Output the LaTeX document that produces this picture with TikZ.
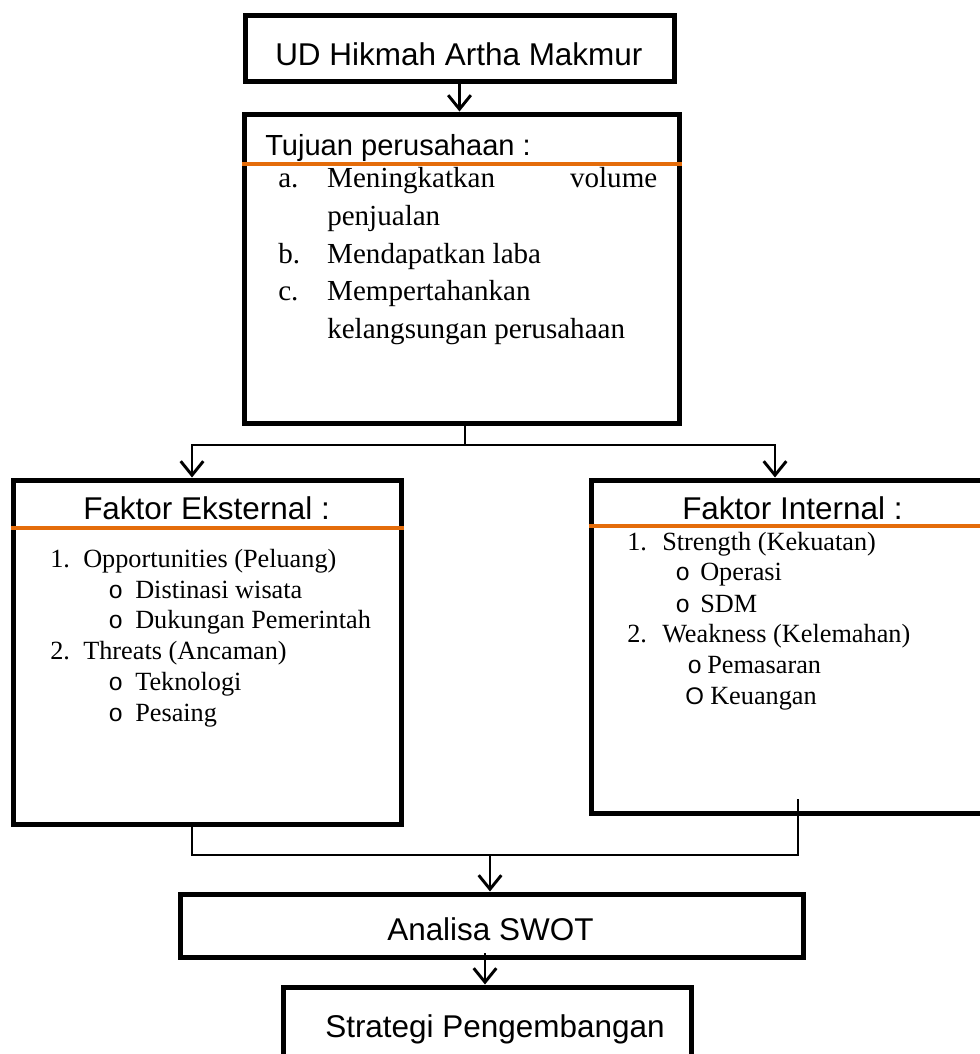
\documentclass[tikz,border=0pt]{standalone}
\usepackage{fontspec}
\setmainfont{Liberation Serif}
\newfontfamily\arialf{Liberation Sans}
\newfontfamily\monof{Liberation Mono}
\usetikzlibrary{arrows.meta,fit}
\definecolor{orangeline}{RGB}{228,108,10}
\newcommand{\ttlfont}{\arialf\fontsize{23.6}{28}\selectfont}
\newcommand{\subfont}{\arialf\fontsize{21.8}{26}\selectfont}
\newcommand{\lsafont}{\fontsize{21.8}{26}\selectfont}
\newcommand{\lsbfont}{\fontsize{19.7}{24}\selectfont}
\newcommand{\bulo}{{\monof\fontsize{18.5}{24}\selectfont o}}
\newcommand{\bulO}{{\arialf\fontsize{18}{22}\selectfont O}}
\begin{document}
\begin{tikzpicture}[x=0.75pt,y=-0.75pt,
  box/.style={draw,line width=3.75pt,inner sep=0pt},
  txt/.style={inner sep=0pt,anchor=base west},
  conn/.style={line width=2.2pt},
  arr/.style={line width=2.2pt,-{Straight Barb[length=10.5pt,width=17pt,line width=2.2pt]}},
  oline/.style={draw=orangeline,line width=2.8pt}]
\useasboundingbox (0,0) rectangle (980,1054);
\clip (0,0) rectangle (980,1054);

% boxes
\node[box,fit={(245,15)(674,81)}] (top) {};
\node[box,fit={(244,114)(679,423)}] (tuj) {};
\node[box,fit={(13,480)(401,824)}] (eks) {};
\node[box,fit={(591,480)(1010,813)}] (int) {};
\node[box,fit={(180,894)(803,957)}] (ana) {};
\node[box,fit={(283,987)(691,1100)}] (str) {};

% orange separators
\draw[oline] (tuj.west |- 0,164) -- (tuj.east |- 0,164);
\draw[oline] (eks.west |- 0,528) -- (eks.east |- 0,528);
\draw[oline] (int.west |- 0,526) -- (int.east |- 0,526);

% titles
\node[txt,font=\ttlfont] (ttop) at (275,65) {UD Hikmah Artha Makmur};
\node[txt,font=\subfont] (ttuj) at (265,155) {Tujuan perusahaan :};
\node[txt,font=\ttlfont] (teks) at (83,519) {Faktor Eksternal :};
\node[txt,font=\ttlfont] (tint) at (682,519) {Faktor Internal :};
\node[txt,font=\ttlfont] (tana) at (387,940) {Analisa SWOT};
\node[txt,font=\ttlfont] (tstr) at (325,1037) {Strategi Pengembangan};

% Tujuan list
\node[txt,font=\lsafont] (la) at (278,187) {\makebox[36.75pt][l]{a.}\hbox to 247.5pt{Meningkatkan\hfill volume}};
\node[txt,font=\lsafont] (la2) at (327,225) {penjualan};
\node[txt,font=\lsafont] (lb) at (278,263) {\makebox[36.75pt][l]{b.}Mendapatkan laba};
\node[txt,font=\lsafont] (lc) at (278,300) {\makebox[36.75pt][l]{c.}Mempertahankan};
\node[txt,font=\lsafont] (lc2) at (327,338) {kelangsungan perusahaan};

% Eksternal list
\node[txt,font=\lsbfont] (e1) at (50,567) {\makebox[24.75pt][l]{1.}Opportunities (Peluang)};
\node[txt,font=\lsbfont] (e11) at (108,598) {\makebox[20.25pt][l]{\bulo}Distinasi wisata};
\node[txt,font=\lsbfont] (e12) at (108,628) {\makebox[20.25pt][l]{\bulo}Dukungan Pemerintah};
\node[txt,font=\lsbfont] (e2) at (50,659) {\makebox[24.75pt][l]{2.}Threats (Ancaman)};
\node[txt,font=\lsbfont] (e21) at (108,690) {\makebox[20.25pt][l]{\bulo}Teknologi};
\node[txt,font=\lsbfont] (e22) at (108,721) {\makebox[20.25pt][l]{\bulo}Pesaing};

% Internal list
\node[txt,font=\lsbfont] (i1) at (627,550) {\makebox[26.25pt][l]{1.}Strength (Kekuatan)};
\node[txt,font=\lsbfont] (i11) at (675,580) {\makebox[18.75pt][l]{\bulo}Operasi};
\node[txt,font=\lsbfont] (i12) at (675,612) {\makebox[18.75pt][l]{\bulo}SDM};
\node[txt,font=\lsbfont] (i2) at (627,642) {\makebox[26.25pt][l]{2.}Weakness (Kelemahan)};
\node[txt,font=\lsbfont] (i21) at (687,673) {\makebox[15pt][l]{\bulo}Pemasaran};
\node[txt,font=\lsbfont] (i22) at (685,704) {\makebox[18.75pt][l]{\bulO}Keuangan};

% connectors
\draw[arr] (top.south) -- (top.south |- tuj.north);

\coordinate (sp) at (465,445);
\coordinate (el) at (192,445);
\coordinate (er) at (775,445);
\draw[conn] (tuj.south -| sp) -- (sp);
\draw[arr] (sp) -| (eks.north -| el);
\draw[arr] (sp) -| (int.north -| er);

\coordinate (bl) at (192,855);
\coordinate (br) at (798,855);
\coordinate (rt) at (798,799);
\coordinate (bm) at (490,855);
\draw[conn] (eks.south -| bl) -- (bl) -- (br) -- (rt);
\draw[arr] (bm) -- (bm |- ana.north);

\coordinate (am) at (485,953);
\draw[arr] (am) -- (am |- str.north);
\end{tikzpicture}
\end{document}
